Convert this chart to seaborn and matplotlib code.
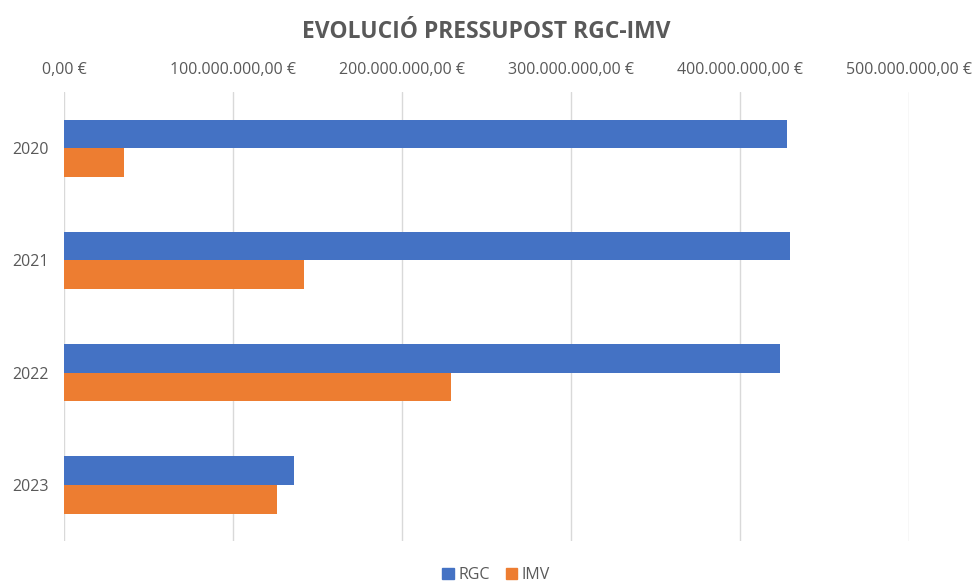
import pandas as pd
import matplotlib
matplotlib.use('Agg')
import matplotlib.pyplot as plt
import seaborn as sns
from matplotlib.ticker import FuncFormatter

years = ['2020', '2021', '2022', '2023']
rgc = [428_000_000, 430_000_000, 424_000_000, 136_000_000]
imv = [35_500_000, 142_000_000, 229_000_000, 126_000_000]
series = ['RGC', 'IMV']
colors = ['#4472C4', '#ED7D31']
xticks = [0, 100_000_000, 200_000_000, 300_000_000, 400_000_000, 500_000_000]


def euro(v, pos=None):
    s = f'{v:,.2f}'.replace(',', 'X').replace('.', ',').replace('X', '.')
    return f'{s} €'


def main():
    df = pd.DataFrame({
        'year': years * 2,
        'value': rgc + imv,
        'serie': ['RGC'] * len(years) + ['IMV'] * len(years),
    })

    sns.set_style('white')
    plt.rcParams['font.family'] = ['Open Sans', 'DejaVu Sans']
    gray = '#595959'

    fig = plt.figure(figsize=(9.73, 5.83), dpi=100)
    ax = fig.add_axes([0.0661, 0.072, 0.8678, 0.770])
    sns.barplot(data=df, x='value', y='year', hue='serie', hue_order=series,
                palette=colors, orient='h', width=0.51, gap=0, saturation=1,
                linewidth=0, ax=ax, legend=False)

    ax.set_xlim(0, 500_000_000)
    ax.set_xticks(xticks)
    ax.xaxis.set_major_formatter(FuncFormatter(euro))
    ax.xaxis.tick_top()
    ax.tick_params(axis='x', length=0, pad=10, labelsize=11.5, colors=gray)
    ax.tick_params(axis='y', length=0, pad=11, labelsize=11.5, colors=gray)
    ax.set_xlabel('')
    ax.set_ylabel('')
    ax.grid(axis='x', color='#D9D9D9', linewidth=1)
    ax.set_axisbelow(True)
    for sp in ax.spines.values():
        sp.set_visible(False)

    fig.suptitle('EVOLUCIÓ PRESSUPOST RGC-IMV', x=0.5, y=0.965, fontsize=16.5,
                 fontweight='bold', color=gray)

    handles = [plt.Rectangle((0, 0), 1, 1, color=c) for c in colors]
    fig.legend(handles, series, loc='lower center', bbox_to_anchor=(0.51, -0.025),
               ncol=2, frameon=False, handlelength=0.7, handleheight=0.7,
               handletextpad=0.3, columnspacing=1.0, fontsize=11.5,
               labelcolor=gray)

    fig.savefig('out.png', dpi=100)


if __name__ == '__main__':
    main()
